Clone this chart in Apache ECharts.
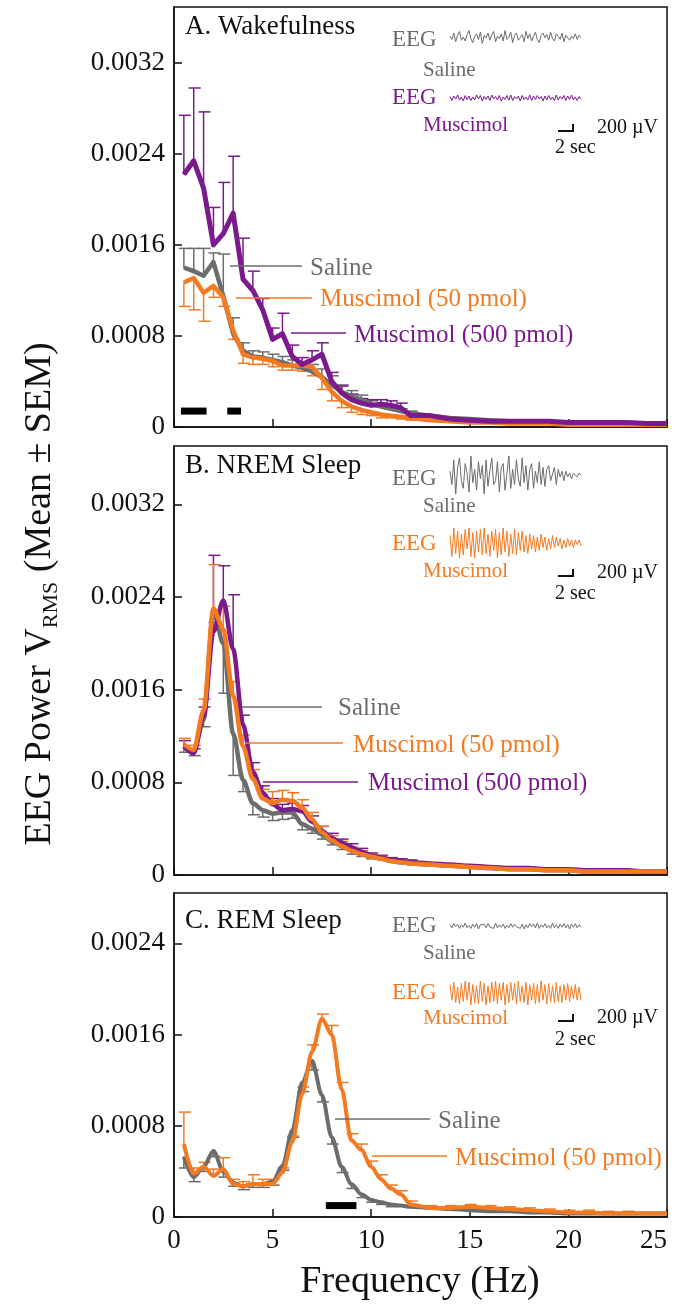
<!DOCTYPE html>
<html>
<head>
<meta charset="utf-8">
<script src="https://cdn.jsdelivr.net/npm/echarts@6/dist/echarts.min.js"></script>
<style>
html,body{margin:0;padding:0;background:#fff}
#main{width:676px;height:1312px}
</style>
</head>
<body>
<div id="main"></div>
<script>
// frequency bins (Hz)
var freq = [0.5,1,1.5,2,2.5,3,3.5,4,4.5,5,5.5,6,6.5,7,7.5,8,8.5,9,9.5,10,10.5,11,11.5,12,13,14,15,16,17,18,19,20,21,22,23,24,25];

// A. Wakefulness
var wakeSal   = [0.00140,0.00137,0.00133,0.00145,0.00115,0.00082,0.00067,0.00062,0.00061,0.00059,0.00057,0.00054,0.00052,0.00049,0.00044,0.00037,0.00031,0.00027,0.00024,0.00020,0.00018,0.00016,0.00014,0.00012,0.00010,0.00008,0.00007,0.00006,0.00005,0.00005,0.00004,0.00004,0.00004,0.00003,0.00003,0.00003,0.00003];
var wakeSalE  = [0.00017,0.00020,0.00024,0.00008,0.00037,0.00014,0.00007,0.00005,0.00005,0.00005,0.00005,0.00005,0.00005,0.00006,0.00007,0.00008,0.00006,0.00005,0.00004,0.00003,0.00003,0.00003,0.00002,0.00002];
var wakeM50   = [0.00127,0.00131,0.00118,0.00124,0.00114,0.00085,0.00064,0.00061,0.00060,0.00058,0.00054,0.00054,0.00054,0.00053,0.00043,0.00031,0.00023,0.00018,0.00015,0.00013,0.00011,0.00010,0.00009,0.00008,0.00006,0.00005,0.00004,0.00004,0.00003,0.00003,0.00003,0.00002,0.00002,0.00002,0.00002,0.00002,0.00002];
var wakeM50E  = [0.00021,0.00028,0.00025,0.00010,0.00008,0.00008,0.00008,0.00006,0.00005,0.00005,0.00004,0.00004,0.00005,0.00008,0.00010,0.00008,0.00006,0.00005,0.00004,0.00003,0.00003,0.00002,0.00002,0.00002];
var wakeM500  = [0.00222,0.00234,0.00210,0.00160,0.00170,0.00188,0.00130,0.00120,0.00103,0.00077,0.00082,0.00062,0.00055,0.00059,0.00064,0.00040,0.00030,0.00024,0.00021,0.00019,0.00020,0.00019,0.00017,0.00010,0.00010,0.00007,0.00006,0.00005,0.00005,0.00005,0.00005,0.00004,0.00004,0.00004,0.00004,0.00003,0.00003];
var wakeM500E = [0.00052,0.00064,0.00067,0.00033,0.00045,0.00050,0.00036,0.00017,0.00010,0.00010,0.00018,0.00010,0.00006,0.00008,0.00010,0.00008,0.00006,0.00005,0.00004,0.00005,0.00004,0.00004,0.00004,0.00002];

// B. NREM sleep
var nremSal   = [0.00111,0.00107,0.00134,0.00228,0.00200,0.00122,0.00082,0.00062,0.00056,0.00053,0.00054,0.00054,0.00044,0.00040,0.00035,0.00029,0.00025,0.00021,0.00018,0.00016,0.00014,0.00012,0.00011,0.00010,0.00009,0.00008,0.00007,0.00006,0.00005,0.00005,0.00004,0.00004,0.00003,0.00003,0.00003,0.00003,0.00003];
var nremSalE  = [0.00005,0.00004,0.00006,0.00010,0.00043,0.00036,0.00010,0.00010,0.00006,0.00006,0.00006,0.00005,0.00005,0.00004,0.00004,0.00003,0.00003,0.00003,0.00002,0.00002];
var nremM50   = [0.00113,0.00108,0.00142,0.00230,0.00212,0.00155,0.00111,0.00083,0.00066,0.00062,0.00065,0.00064,0.00058,0.00048,0.00037,0.00030,0.00025,0.00021,0.00018,0.00016,0.00014,0.00012,0.00011,0.00010,0.00009,0.00008,0.00007,0.00006,0.00005,0.00005,0.00004,0.00004,0.00003,0.00003,0.00003,0.00003,0.00003];
var nremM50E  = [0.00005,0.00004,0.00010,0.00038,0.00020,0.00012,0.00010,0.00008,0.00008,0.00010,0.00008,0.00007,0.00007,0.00006,0.00005,0.00004,0.00004,0.00003,0.00003,0.00002,0.00002,0.00002,0.00002,0.00002];
var nremM500  = [0.00111,0.00105,0.00137,0.00210,0.00237,0.00195,0.00130,0.00089,0.00071,0.00061,0.00056,0.00057,0.00055,0.00046,0.00038,0.00032,0.00028,0.00024,0.00020,0.00017,0.00015,0.00013,0.00012,0.00011,0.00010,0.00009,0.00008,0.00007,0.00006,0.00006,0.00005,0.00005,0.00004,0.00004,0.00004,0.00003,0.00003];
var nremM500E = [0.00005,0.00004,0.00008,0.00066,0.00030,0.00047,0.00008,0.00008,0.00006,0.00005,0.00005,0.00005,0.00005,0.00005,0.00004,0.00004,0.00003,0.00003,0.00003,0.00002,0.00002,0.00002,0.00002,0.00002];

// C. REM sleep
var remSal    = [0.00053,0.00035,0.00044,0.00058,0.00040,0.00030,0.00027,0.00029,0.00029,0.00031,0.00045,0.00076,0.00118,0.00137,0.00107,0.00070,0.00044,0.00029,0.00020,0.00015,0.00013,0.00011,0.00010,0.00009,0.00008,0.00007,0.00006,0.00005,0.00005,0.00004,0.00004,0.00003,0.00003,0.00003,0.00003,0.00003,0.00003];
var remSalE   = [0.00010,0.00004,0.00004,0.00005,0.00005,0.00003,0.00003,0.00003,0.00003,0.00003,0.00004,0.00006,0.00008,0.00008,0.00006,0.00006,0.00005,0.00004,0.00003,0.00002,0.00002,0.00002];
var remM50    = [0.00064,0.00038,0.00044,0.00036,0.00042,0.00029,0.00027,0.00029,0.00029,0.00029,0.00039,0.00066,0.00108,0.00145,0.00174,0.00160,0.00112,0.00067,0.00059,0.00044,0.00033,0.00025,0.00020,0.00011,0.00008,0.00008,0.00009,0.00008,0.00007,0.00006,0.00005,0.00004,0.00004,0.00003,0.00003,0.00003,0.00003];
var remM50E   = [0.00028,0.00005,0.00004,0.00006,0.00010,0.00004,0.00004,0.00008,0.00004,0.00004,0.00004,0.00005,0.00006,0.00006,0.00004,0.00008,0.00006,0.00006,0.00005,0.00005,0.00004,0.00003,0.00003,0.00003,0.00002,0.00002,0.00002,0.00002,0.00002,0.00002,0.00002,0.00002,0.00002,0.00002,0.00002];

// significance bars [from Hz, to Hz, level]
var sigA = [[0.35,1.65,0.00014],[2.7,3.4,0.00014]];
var sigC = [[7.7,9.25,0.00010]];

// sample EEG traces (arbitrary units)
var eegWakeSal = [1,-3,5,-6,2,7,-4,0,-5,3,8,-2,-7,1,4,-3,6,-8,2,-1,5,-4,3,7,-6,1,-2,4,-5,8,-3,0,6,-7,2,5,-4,-1,3,-6,7,-2,4,-5,1,6,-3,-7,2,5,-1,3,-4,6,-2,-5,4,1,-3,5,-6,2,3,-4,1,-2,4,-3,2,-1];
var eegWakeMus = [3,-5,4,-2,6,-4,2,-6,5,-3,4,-5,2,-4,6,-2,5,-6,3,-3,4,-5,6,-2,3,-4,5,-6,2,-3,5,-4,6,-5,3,-2,4,-6,5,-3,2,-4,6,-5,4,-3,5,-2,3,-6,4,-4,5,-3,2,-5,6,-4,3,-2,5,-5,4,-3,6,-4,2,-5,3,-3];
var eegNremSal = [2,-5,8,-10,4,9,-3,-7,6,1,-9,10,-4,3,-8,7,-2,5,-10,8,-6,2,9,-5,-3,7,-9,4,6,-8,1,10,-7,3,-5,8,-2,-6,9,-4,5,-8,3,6,-7,2,-4,7,-5,4,-6,3,5,-3,-2,4,-5,3,-1,2,-3,2,-1,1,-2,1,0,-1,1,0];
var eegNremMus = [5,-9,10,-7,8,-10,6,-8,9,-4,10,-9,7,-10,8,-6,9,-8,10,-7,6,-9,8,-5,9,-10,7,-8,10,-6,8,-9,6,-7,9,-8,7,-5,8,-6,5,-7,6,-4,5,-6,4,-5,6,-3,4,-5,3,-4,5,-3,4,-2,3,-4,2,-3,3,-2,2,-3,2,-1,2,-2];
var eegRemSal  = [2,-3,4,-1,3,-4,2,-2,5,-3,1,-4,3,-2,4,-5,2,-1,3,-3,4,-2,1,-4,5,-3,2,-2,3,-4,1,-3,4,-2,3,-1,2,-4,3,-5,2,-3,4,-1,3,-3,5,-4,2,-2,4,-3,1,-4,5,-3,2,-4,3,-2,4,-3,2,-5,3,-2,4,-3,2,-2];
var eegRemMus  = [7,-6,9,-8,5,-9,8,-7,10,-6,9,-10,7,-8,6,-9,10,-7,8,-10,6,-8,9,-7,10,-9,8,-6,9,-10,7,-8,9,-6,8,-9,10,-7,6,-8,9,-10,7,-6,8,-9,7,-8,10,-6,7,-9,8,-7,6,-8,9,-7,6,-8,7,-6,8,-7,6,-5,7,-6,5,-6];

var yTicks = 0.0008;
var SERIF = '"Liberation Serif", "DejaVu Serif", serif';
var GRAY = '#6c6c6c', ORANGE = '#f47a22', PURPLE = '#7a1a8c';

var myChart = echarts.init(document.getElementById('main'));

function pairs(ys) {
  return freq.map(function (f, i) { return [f, ys[i]]; });
}

function lineSeries(idx, ys, color, w, smooth) {
  return {
    type: 'line', xAxisIndex: idx, yAxisIndex: idx, data: pairs(ys),
    symbol: 'none', smooth: smooth, smoothMonotone: 'x',
    lineStyle: {color: color, width: w, join: 'round'}, z: 3, silent: true
  };
}

// error bars drawn one-sided (dir = 1 up, -1 down)
function errSeries(idx, ys, es, dir, color) {
  var data = [];
  for (var i = 0; i < freq.length; i++) {
    if (es[i] != null) data.push([freq[i], ys[i], es[i]]);
  }
  return {
    type: 'custom', xAxisIndex: idx, yAxisIndex: idx, data: data, z: 2, silent: true,
    renderItem: function (params, api) {
      var x = api.value(0), y = api.value(1), e = api.value(2);
      var p0 = api.coord([x, y]);
      var p1 = api.coord([x, y + dir * e]);
      var st = {stroke: color, lineWidth: 1.5};
      return {type: 'group', children: [
        {type: 'line', shape: {x1: p0[0], y1: p0[1], x2: p1[0], y2: p1[1]}, style: st},
        {type: 'line', shape: {x1: p1[0] - 5, y1: p1[1], x2: p1[0] + 7, y2: p1[1]}, style: st}
      ]};
    }
  };
}

function sigSeries(idx, bars) {
  return {
    type: 'custom', xAxisIndex: idx, yAxisIndex: idx, data: bars, z: 4, silent: true,
    renderItem: function (params, api) {
      var a = api.coord([api.value(0), api.value(2)]);
      var b = api.coord([api.value(1), api.value(2)]);
      return {type: 'rect', shape: {x: a[0], y: a[1] - 3.5, width: b[0] - a[0], height: 7}, style: {fill: '#000'}};
    }
  };
}

function eegSeries(idx, arr, color) {
  return {
    type: 'line', xAxisIndex: idx, yAxisIndex: idx,
    data: arr.map(function (v, i) { return [i, v]; }),
    symbol: 'none', lineStyle: {color: color, width: 1}, silent: true
  };
}

var grids = [
  {left: 174, right: 9, top: 7, height: 420},
  {left: 174, right: 9, top: 446, height: 429},
  {left: 174, right: 9, top: 893, height: 324}
].map(function (g) {
  g.show = true; g.borderColor = '#111'; g.borderWidth = 1.5; g.backgroundColor = '#fff';
  g.outerBoundsMode = 'none';
  return g;
});
// inset EEG traces
var insets = [[29, 16], [93, 10], [456, 38], [528, 30], [920, 12], [981, 24]];
var traces = [eegWakeSal, eegWakeMus, eegNremSal, eegNremMus, eegRemSal, eegRemMus];
insets.forEach(function (s) {
  grids.push({left: 450, width: 131, top: s[0], height: s[1], outerBoundsMode: 'none'});
});

var xAxes = [], yAxes = [];
var yMax = [0.003692, 0.003704, 0.002842];
for (var k = 0; k < 3; k++) {
  xAxes.push({
    type: 'value', gridIndex: k, min: 0, max: 25, interval: 5,
    axisLine: {lineStyle: {color: '#111', width: 1.5}},
    axisTick: {inside: true, length: 8, lineStyle: {color: '#111', width: 1.5}},
    axisLabel: {show: k === 2, fontFamily: SERIF, fontSize: 27, color: '#111', margin: 10, alignMaxLabel: 'right'},
    splitLine: {show: false}
  });
  yAxes.push({
    type: 'value', gridIndex: k, min: 0, max: yMax[k], interval: yTicks,
    axisLine: {lineStyle: {color: '#111', width: 1.5}},
    axisTick: {inside: true, length: 8, lineStyle: {color: '#111', width: 1.5}},
    axisLabel: {
      fontFamily: SERIF, fontSize: 27, color: '#111', margin: 9, showMaxLabel: false,
      formatter: function (v) { return v === 0 ? '0' : v.toFixed(4); }
    },
    splitLine: {show: false}
  });
}
for (var j = 0; j < insets.length; j++) {
  xAxes.push({type: 'value', gridIndex: 3 + j, min: 0, max: traces[j].length - 1, show: false});
  yAxes.push({type: 'value', gridIndex: 3 + j, min: -10, max: 10, show: false});
}

var series = [
  errSeries(0, wakeSal, wakeSalE, 1, GRAY),
  errSeries(0, wakeM50, wakeM50E, -1, ORANGE),
  errSeries(0, wakeM500, wakeM500E, 1, PURPLE),
  lineSeries(0, wakeSal, GRAY, 4.5, false),
  lineSeries(0, wakeM50, ORANGE, 4.5, false),
  lineSeries(0, wakeM500, PURPLE, 5, false),
  sigSeries(0, sigA),

  errSeries(1, nremSal, nremSalE, -1, GRAY),
  errSeries(1, nremM500, nremM500E, 1, PURPLE),
  errSeries(1, nremM50, nremM50E, 1, ORANGE),
  lineSeries(1, nremSal, GRAY, 4.5, 0.3),
  lineSeries(1, nremM500, PURPLE, 4.5, 0.3),
  lineSeries(1, nremM50, ORANGE, 4.5, 0.3),

  errSeries(2, remSal, remSalE, -1, GRAY),
  errSeries(2, remM50, remM50E, 1, ORANGE),
  lineSeries(2, remSal, GRAY, 4, 0.3),
  lineSeries(2, remM50, ORANGE, 4, 0.3),
  sigSeries(2, sigC),

  eegSeries(3, eegWakeSal, GRAY),
  eegSeries(4, eegWakeMus, PURPLE),
  eegSeries(5, eegNremSal, GRAY),
  eegSeries(6, eegNremMus, ORANGE),
  eegSeries(7, eegRemSal, GRAY),
  eegSeries(8, eegRemMus, ORANGE)
];

function txt(x, y, s, size, color, align) {
  return {type: 'text', x: x, y: y, silent: true, z: 10,
    style: {text: s, fontSize: size, fontFamily: SERIF, fill: color, align: align || 'left', verticalAlign: 'middle'}};
}
function seg(pts, color, w) {
  return {type: 'polyline', silent: true, z: 10, shape: {points: pts}, style: {stroke: color, lineWidth: w || 1.5, fill: null}};
}

var graphic = [
  txt(185, 27, 'A. Wakefulness', 27, '#111'),
  txt(185, 466, 'B. NREM Sleep', 27, '#111'),
  txt(185, 921, 'C. REM Sleep', 27, '#111'),

  seg([[230, 266], [302, 266]], GRAY), txt(310, 268, 'Saline', 25, GRAY),
  seg([[236, 298], [312, 298]], ORANGE), txt(320, 299, 'Muscimol (50 pmol)', 25, ORANGE),
  seg([[291, 333], [346, 333]], PURPLE), txt(354, 335, 'Muscimol (500 pmol)', 25, PURPLE),

  seg([[242, 707], [322, 707]], GRAY), txt(338, 708, 'Saline', 25, GRAY),
  seg([[245, 743], [343, 743]], ORANGE), txt(353, 745, 'Muscimol (50 pmol)', 25, ORANGE),
  seg([[263, 782], [358, 782]], PURPLE), txt(368, 783, 'Muscimol (500 pmol)', 25, PURPLE),

  seg([[335, 1119], [430, 1119]], GRAY), txt(438, 1121, 'Saline', 25, GRAY),
  seg([[372, 1156], [447, 1156]], ORANGE), txt(455, 1158, 'Muscimol (50 pmol)', 25, ORANGE)
];

// inset labels for each panel: [eeg1 y, saline y, eeg2 y, muscimol y, bar y, 2 sec y, colour]
var insetText = [[40, 70, 98, 125, 131, 148, PURPLE], [479, 506, 544, 571, 576, 594, ORANGE], [926, 953, 993, 1018, 1021, 1040, ORANGE]];
insetText.forEach(function (t) {
  graphic.push(txt(392, t[0], 'EEG', 23, GRAY));
  graphic.push(txt(423, t[1], 'Saline', 21, GRAY));
  graphic.push(txt(392, t[2], 'EEG', 23, t[6]));
  graphic.push(txt(423, t[3], 'Muscimol', 21, t[6]));
  graphic.push(seg([[558, t[4]], [573, t[4]], [573, t[4] - 7]], '#111', 2));
  graphic.push(txt(597, t[4] - 3, '200 \u00b5V', 20, '#111'));
  graphic.push(txt(555, t[5], '2 sec', 20, '#111'));
});

graphic.push({
  type: 'text', x: 40, y: 594, rotation: Math.PI / 2, silent: true,
  style: {
    text: '{a|EEG Power V}{s|RMS}{a| (Mean \u00b1 SEM)}',
    align: 'center', verticalAlign: 'middle', fill: '#111',
    rich: {
      a: {fontSize: 38, fontFamily: SERIF, fill: '#111', lineHeight: 44},
      s: {fontSize: 22, fontFamily: SERIF, fill: '#111', lineHeight: 22, verticalAlign: 'bottom'}
    }
  }
});
graphic.push(txt(420, 1282, 'Frequency (Hz)', 38, '#111', 'center'));

var option = {
  animation: false,
  backgroundColor: '#fff',
  grid: grids,
  xAxis: xAxes,
  yAxis: yAxes,
  series: series,
  graphic: graphic
};
myChart.setOption(option);
</script>
</body>
</html>
